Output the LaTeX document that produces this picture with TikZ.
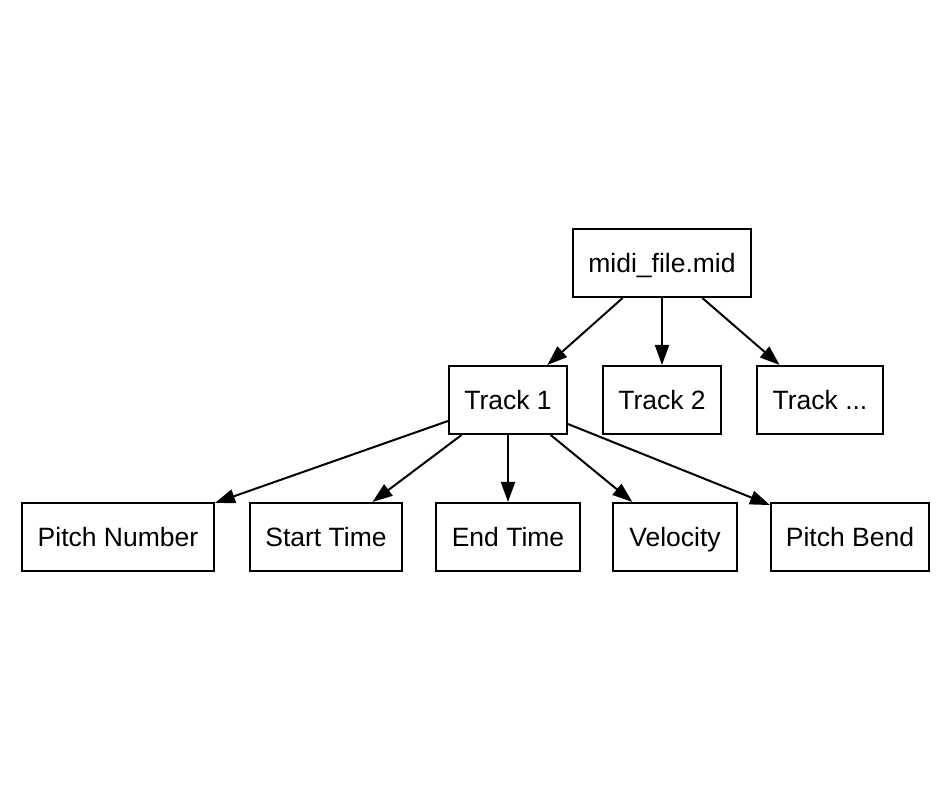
\documentclass[tikz,border=0pt]{standalone}
\usepackage{fontspec}
\setmainfont{Liberation Sans}
\usetikzlibrary{arrows.meta}
\begin{document}
\begin{tikzpicture}[x=1pt,y=1pt,
  box/.style={draw=black, line width=2pt, inner sep=0pt, minimum height=68pt, text height=19pt, text depth=0pt, font=\fontsize{26.5}{31}\selectfont},
  conn/.style={line width=2pt, -{Triangle[length=20pt,width=14pt]}}]
\useasboundingbox (0,0) rectangle (951,799);
\node[box, minimum width=178pt] (midi) at (662,536) {midi\_file.mid};
\node[box, minimum width=118pt] (t1) at (508,399) {Track 1};
\node[box, minimum width=118pt] (t2) at (662,399) {Track 2};
\node[box, minimum width=126pt] (t3) at (820,399) {Track ...};
\node[box, minimum width=192pt] (pn) at (118,262) {Pitch Number};
\node[box, minimum width=152pt] (st) at (326,262) {Start Time};
\node[box, minimum width=144pt] (et) at (508,262) {End Time};
\node[box, minimum width=124pt] (ve) at (675,262) {Velocity};
\node[box, minimum width=158pt] (pb) at (850,262) {Pitch Bend};
\draw[conn] (midi) -- (t1);
\draw[conn] (midi) -- (t2);
\draw[conn] (midi) -- (t3);
\draw[conn] (t1) -- (pn);
\draw[conn] (t1) -- (st);
\draw[conn] (t1) -- (et);
\draw[conn] (t1) -- (ve);
\draw[conn] (t1) -- (pb);
\end{tikzpicture}
\end{document}
